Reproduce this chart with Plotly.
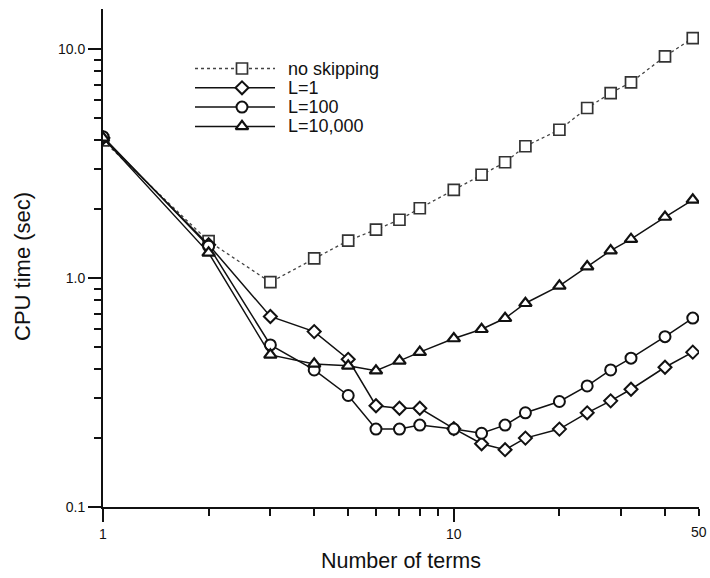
import math
import plotly.graph_objects as go

# ---- data ----
terms = [1, 2, 3, 4, 5, 6, 7, 8, 10, 12, 14, 16, 20, 24, 28, 32, 40, 48]
no_skipping = [4.0, 1.45, 0.96, 1.22, 1.46, 1.63, 1.80, 2.02, 2.43, 2.83, 3.21, 3.77,
               4.45, 5.54, 6.44, 7.17, 9.31, 11.2]
l_1 = [4.1, 1.40, 0.68, 0.584, 0.442, 0.277, 0.270, 0.270, 0.22, 0.189, 0.178, 0.200,
       0.219, 0.258, 0.291, 0.327, 0.408, 0.475]
l_100 = [4.15, 1.38, 0.511, 0.397, 0.307, 0.219, 0.219, 0.228, 0.219, 0.210, 0.228, 0.258,
         0.289, 0.338, 0.397, 0.447, 0.555, 0.669]
l_10000 = [4.1, 1.29, 0.462, 0.422, 0.414, 0.394, 0.435, 0.475, 0.545, 0.598, 0.668, 0.777,
           0.925, 1.124, 1.32, 1.48, 1.85, 2.20]

series_names = ["no skipping", "L=1", "L=100", "L=10,000"]

x_max = 50          # right end of the x axis (labelled)
x_end_label = "50"
y_max = 15
x_title = "Number of terms"
y_title = "CPU time (sec)"

INK = "#111111"
FONT = "Liberation Sans, Arial, Helvetica, sans-serif"

# plot-area geometry (pixels in the 710x578 page)
W, H = 710, 578
ML, MR, MT, MB = 103, 11, 9, 71
PW, PH = W - ML - MR, H - MT - MB

styles = [
    dict(line=dict(color="#444444", width=1.3, dash="dot"),
         marker=dict(symbol="square", size=11, color="white",
                     line=dict(color="#333333", width=1.7))),
    dict(line=dict(color=INK, width=1.5),
         marker=dict(symbol="diamond", size=10, color="white",
                     line=dict(color=INK, width=2))),
    dict(line=dict(color=INK, width=1.5),
         marker=dict(symbol="circle", size=11, color="white",
                     line=dict(color=INK, width=2))),
    dict(line=dict(color=INK, width=1.5),
         marker=dict(symbol="triangle-up", size=11, color="white",
                     line=dict(color=INK, width=2.2))),
]
series = [no_skipping, l_1, l_100, l_10000]

fig = go.Figure()
for name, vals, st in zip(series_names, series, styles):
    fig.add_trace(go.Scatter(x=terms, y=vals, name=name, mode="lines+markers",
                             showlegend=False, **st))

# ---- hand-drawn legend on a pixel-unit overlay axis (layout, not data) ----
leg_rows_y = [68.5, 87.8, 107.1, 126.4]
leg_line_x0, leg_line_x1, leg_mark_x, leg_text_x = 195, 275, 242, 286
for name, st, ry in zip(series_names, styles, leg_rows_y):
    fig.add_trace(go.Scatter(x=[leg_line_x0, leg_line_x1], y=[ry, ry], mode="lines",
                             line=st["line"], xaxis="x2", yaxis="y2",
                             showlegend=False, hoverinfo="skip"))
    fig.add_trace(go.Scatter(x=[leg_mark_x], y=[ry], mode="markers",
                             marker=st["marker"], xaxis="x2", yaxis="y2",
                             showlegend=False, hoverinfo="skip"))
    fig.add_annotation(x=leg_text_x, y=ry, xref="x2", yref="y2", text=name,
                       showarrow=False, xanchor="left", yanchor="middle",
                       font=dict(family=FONT, size=18, color=INK))

# label for the right end of the x axis
fig.add_annotation(x=math.log10(x_max), y=0, xref="x", yref="paper", text=x_end_label,
                   showarrow=False, xanchor="center", yanchor="top", yshift=-15,
                   font=dict(family=FONT, size=14, color=INK))

# y-axis title, placed where the reference has it (slightly below the plot centre)
y_title_px = (22, 267)
fig.add_annotation(x=(y_title_px[0] - ML) / PW, y=(H - MB - y_title_px[1]) / PH,
                   xref="paper", yref="paper", text=y_title, textangle=-90,
                   showarrow=False, xanchor="center", yanchor="middle",
                   font=dict(family=FONT, size=22, color=INK))

axis_common = dict(
    showline=True, linecolor=INK, linewidth=2,
    showgrid=False, zeroline=False, mirror=False, automargin=False,
    ticks="outside", ticklen=13, tickwidth=2, tickcolor=INK,
    tickfont=dict(family=FONT, size=14, color=INK),
)
minor_common = dict(dtick="D1", ticks="outside", ticklen=7, tickwidth=1.5,
                    tickcolor=INK, showgrid=False)

fig.update_layout(
    width=W, height=H,
    margin=dict(l=ML, r=MR, t=MT, b=MB),
    paper_bgcolor="white", plot_bgcolor="white",
    font=dict(family=FONT, color=INK),
    showlegend=False,
    xaxis=dict(
        type="log", range=[0, math.log10(x_max)],
        tickmode="linear", tick0=0, dtick=1,
        minor=minor_common,
        title=dict(text=x_title, font=dict(family=FONT, size=21.5, color=INK),
                   standoff=12),
        **axis_common,
    ),
    yaxis=dict(
        type="log", range=[-1, math.log10(y_max)],
        tickmode="linear", tick0=0, dtick=1, tickformat=".1f",
        minor=minor_common,
        **axis_common,
    ),
    xaxis2=dict(overlaying="x", anchor="y2", range=[ML, W - MR], visible=False,
                fixedrange=True),
    yaxis2=dict(overlaying="y", anchor="x2", range=[H - MB, MT], visible=False,
                fixedrange=True),
)

fig.write_html("out.html", config={"displayModeBar": False},
               post_script="document.body.style.margin='0px';")
